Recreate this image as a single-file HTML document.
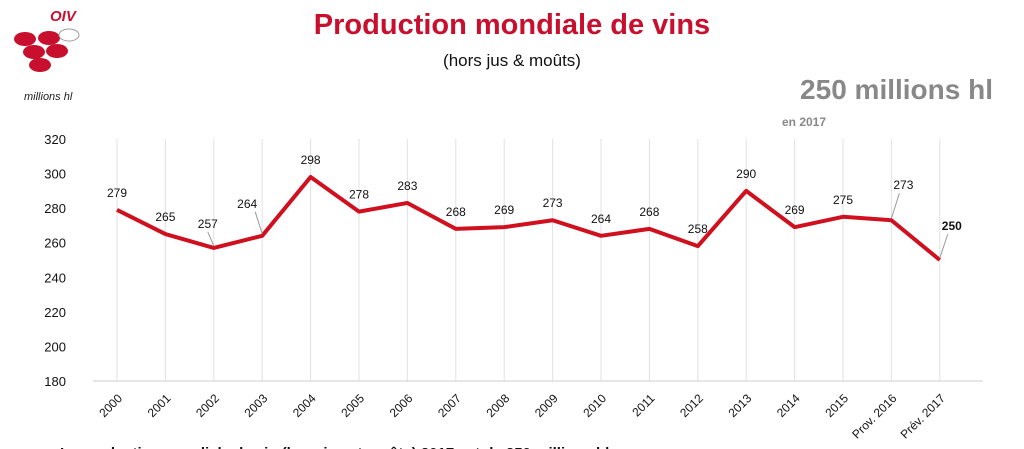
<!DOCTYPE html>
<html><head><meta charset="utf-8"><style>
body{margin:0;background:#fff;width:1024px;height:449px;overflow:hidden;font-family:"Liberation Sans",sans-serif}
</style></head><body>
<svg width="1024" height="449" style="position:absolute;left:0;top:0">
<g>
<text x="50" y="21" font-size="15" font-weight="bold" font-style="italic" fill="#c8102e">OIV</text>
<ellipse cx="25" cy="39" rx="11" ry="7" fill="#c8102e"/>
<ellipse cx="49" cy="38" rx="11" ry="7" fill="#c8102e"/>
<ellipse cx="69" cy="35" rx="10" ry="6" fill="#fff" stroke="#999"/>
<ellipse cx="34" cy="52" rx="11" ry="7" fill="#c8102e"/>
<ellipse cx="57" cy="51" rx="11" ry="7" fill="#c8102e"/>
<ellipse cx="40" cy="65" rx="11" ry="7" fill="#c8102e"/>
</g>
<text x="24" y="100" font-size="11" font-style="italic" fill="#222">millions hl</text>
<text x="512" y="34" text-anchor="middle" font-size="29" font-weight="bold" fill="#c8102e">Production mondiale de vins</text>
<text x="512" y="66" text-anchor="middle" font-size="17" fill="#111">(hors jus &amp; moûts)</text>
<text x="993" y="99" text-anchor="end" font-size="28" font-weight="bold" fill="#888">250 millions hl</text>
<text x="782" y="126" font-size="12" font-weight="bold" fill="#888">en 2017</text>
<g id="grid"></g><g id="axes"></g><g id="plot"></g>
<text x="60" y="458" font-size="15" font-weight="bold" fill="#111">La production mondiale de vin (hors jus et moûts) 2017 est de 250 millions hl</text>
</svg>
<script>
const categories=["2000","2001","2002","2003","2004","2005","2006","2007","2008","2009","2010","2011","2012","2013","2014","2015","Prov. 2016","Prév. 2017"];
const values=[279,265,257,264,298,278,283,268,269,273,264,268,258,290,269,275,273,250];
const yTicks=[180,200,220,240,260,280,300,320];
const NS="http://www.w3.org/2000/svg";
const x=i=>117+i*48.4, y=v=>381-(v-180)*(242/140);
function mk(t,a,p){const e=document.createElementNS(NS,t);for(const k in a)e.setAttribute(k,a[k]);p.appendChild(e);return e;}
const grid=document.getElementById('grid'),axes=document.getElementById('axes'),plot=document.getElementById('plot');
categories.forEach((c,i)=>{
 const l=mk('line',{x1:x(i),x2:x(i),y1:y(320),y2:y(180),stroke:'#e2e2e2'},grid);
 
 
 const t=mk('text',{x:x(i)+6,y:y(180)+18,'font-size':12,'text-anchor':'end',transform:`rotate(-45 ${x(i)+6} ${y(180)+18})`,fill:'#111'},axes);
 t.textContent=c;
 
 
});
yTicks.forEach(v=>{
 const t=mk('text',{x:66,y:y(v)+5,'font-size':13,'text-anchor':'end',fill:'#111'},axes);
 t.textContent=v;
 
 
});
const ax=mk('line',{x1:93,x2:983,y1:y(180),y2:y(180),stroke:'#ccc'},axes);


const line=mk('polyline',{points:values.map((v,i)=>x(i)+','+y(v)).join(' '),fill:'none',stroke:'#d0101e','stroke-width':4,'stroke-linejoin':'round'},plot);


const leader={2:1,3:1,16:1,17:1};
values.forEach((v,i)=>{
 let lx=x(i),ly=y(v)-13;
 if(leader[i]){
  lx=i==17?x(i)+12:x(i)-6+(i==3?-6:0); ly=y(v)-(i==17?30:i==2?20:30);
  if(i==16){lx=x(i)+12;ly=y(v)-31;}
  if(i==3){lx=x(i)-15;ly=y(v)-28;}
  const ll=mk('line',{x1:x(i),y1:y(v)-2,x2:lx+(i==3?8:i==2?0:-4),y2:ly+4,stroke:'#999'},plot);
  
  
 }
 const t=mk('text',{x:lx,y:ly,'font-size':12,'text-anchor':'middle',fill:'#111','font-weight':i==17?'bold':'normal'},plot);
 t.textContent=v;
 
 
});
</script>
</body></html>
